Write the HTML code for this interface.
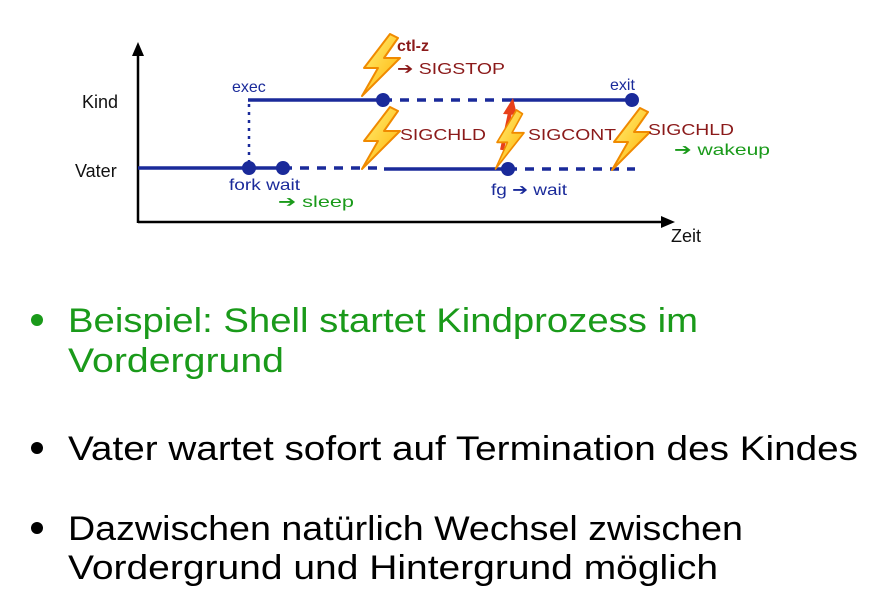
<!DOCTYPE html>
<html><head><meta charset="utf-8"><style>
html,body{margin:0;padding:0;background:#fff;}
svg{display:block;}
text{font-family:"Liberation Sans",sans-serif;}
</style></head><body>
<svg width="888" height="600" viewBox="0 0 888 600" xmlns="http://www.w3.org/2000/svg">
<defs>
<linearGradient id="bg" x1="0" y1="0" x2="1" y2="1">
<stop offset="0" stop-color="#fff27a"/><stop offset="1" stop-color="#ffb000"/></linearGradient>
<g id="bolt"><polygon points="30,0 4,34 18,34 2,62 40,24 24,24 38,4" fill="url(#bg)" stroke="#f08a00" stroke-width="2" stroke-linejoin="round"/></g>
</defs>
<line x1="138" y1="223" x2="138" y2="50" stroke="#000" stroke-width="2.5"/>
<polygon points="138,42 132,56 144,56" fill="#000"/>
<line x1="138" y1="222" x2="665" y2="222" stroke="#000" stroke-width="2.5"/>
<polygon points="675,222 661,216 661,228" fill="#000"/>
<g stroke="#1a2a9a" stroke-width="3.5" fill="none">
<line x1="138" y1="168" x2="283" y2="168"/>
<line x1="283" y1="168" x2="383" y2="168" stroke-dasharray="9,8"/>
<line x1="384" y1="169" x2="508" y2="169"/>
<line x1="508" y1="169" x2="635" y2="169" stroke-dasharray="9,8"/>
<line x1="248" y1="100" x2="383" y2="100"/>
<line x1="383" y1="100" x2="510" y2="100" stroke-dasharray="9,8"/>
<line x1="510" y1="100" x2="632" y2="100"/>
<line x1="249" y1="104" x2="249" y2="162" stroke-width="2.5" stroke-dasharray="3,5"/>
</g>
<g fill="#1a2a9a">
<circle cx="249" cy="168" r="7"/><circle cx="283" cy="168" r="7"/>
<circle cx="383" cy="100" r="7"/><circle cx="508" cy="169" r="7"/><circle cx="632" cy="100" r="7"/>
</g>
<line x1="502" y1="150" x2="511" y2="108" stroke="#e8401a" stroke-width="4"/>
<polygon points="513,98 503,114 517,115" fill="#e8401a"/>
<use href="#bolt" transform="translate(360,34)"/>
<use href="#bolt" transform="translate(360,107)"/>
<use href="#bolt" transform="translate(494,110) scale(0.75,0.95)"/>
<use href="#bolt" transform="translate(610,108)"/>
<g font-size="18" fill="#111"><text x="82" y="108">Kind</text><text x="75" y="177">Vater</text><text x="671" y="242">Zeit</text></g>
<g font-size="16" fill="#1a2a9a">
<text x="232" y="92">exec</text><text x="229" y="190" textLength="71" lengthAdjust="spacingAndGlyphs">fork wait</text>
<text x="610" y="90">exit</text><text x="491" y="195" textLength="76" lengthAdjust="spacingAndGlyphs">fg ➔ wait</text></g>
<g font-size="16" fill="#8b1a1a">
<text x="397" y="51" font-weight="bold">ctl-z</text>
<text x="397" y="74" textLength="108" lengthAdjust="spacingAndGlyphs">➔ SIGSTOP</text>
<text x="400" y="140" textLength="86" lengthAdjust="spacingAndGlyphs">SIGCHLD</text>
<text x="528" y="140" textLength="88" lengthAdjust="spacingAndGlyphs">SIGCONT</text>
<text x="648" y="135" textLength="86" lengthAdjust="spacingAndGlyphs">SIGCHLD</text></g>
<g font-size="16" fill="#1a9a1a"><text x="278" y="207" textLength="76" lengthAdjust="spacingAndGlyphs">➔ sleep</text><text x="674" y="155" textLength="96" lengthAdjust="spacingAndGlyphs">➔ wakeup</text></g>
<circle cx="37" cy="320" r="6" fill="#1a9a1a"/>
<circle cx="37" cy="448" r="6" fill="#000"/>
<circle cx="37" cy="528" r="6" fill="#000"/>
<g font-size="34">
<text x="68" y="332" fill="#1a9a1a" textLength="630" lengthAdjust="spacingAndGlyphs">Beispiel:  Shell startet Kindprozess im</text>
<text x="68" y="372" fill="#1a9a1a" textLength="216" lengthAdjust="spacingAndGlyphs">Vordergrund</text>
<text x="68" y="460" fill="#000" textLength="790" lengthAdjust="spacingAndGlyphs">Vater wartet sofort auf Termination des Kindes</text>
<text x="68" y="540" fill="#000" textLength="675" lengthAdjust="spacingAndGlyphs">Dazwischen natürlich Wechsel zwischen</text>
<text x="68" y="579" fill="#000" textLength="650" lengthAdjust="spacingAndGlyphs">Vordergrund und Hintergrund möglich</text>
</g>
</svg>
</body></html>
